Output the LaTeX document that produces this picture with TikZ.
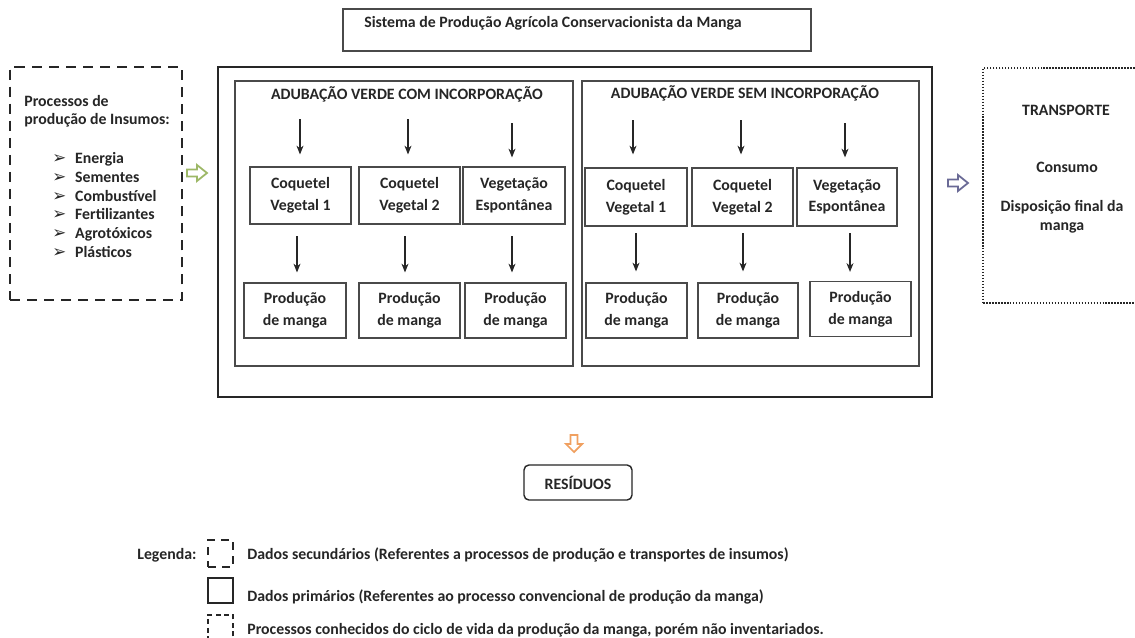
\documentclass[tikz,border=0pt]{standalone}
\usepackage{fontspec}
\setmainfont{Carlito}
\newfontfamily\symfont{DejaVu Sans}
\usetikzlibrary{arrows.meta}
\definecolor{grn}{HTML}{9DB866}
\definecolor{pur}{HTML}{6A6A96}
\definecolor{org}{HTML}{F0A060}
\definecolor{txt}{HTML}{262626}
\definecolor{edge}{HTML}{4A4A4A}
\newcommand\bul{\makebox[13pt][l]{\symfont\fontsize{9.5}{10}\selectfont ➢}}
\begin{document}
\begin{tikzpicture}[x=0.02cm,y=-0.02cm,
  font=\fontsize{9}{11}\selectfont\bfseries, text=txt,
  box/.style={draw=edge, line width=0.7pt, align=center, inner sep=0pt,
    font=\fontsize{9}{12.3}\selectfont\bfseries},
  frame/.style={draw=edge, line width=0.7pt, inner sep=0pt},
  arr/.style={-{Stealth[length=5pt,width=4pt]}, line width=0.6pt, draw=txt},
  blk/.style={line width=1pt, fill=white, line join=miter},
  lbl/.style={inner sep=0pt, align=center},
  secbox/.style={draw=txt, line width=1.4pt, dash pattern=on 5.7pt off 4pt, inner sep=0pt},
  unkbox/.style={draw=txt, line width=1.4pt, dash pattern=on 0.9pt off 0.8pt, inner sep=0pt}]
\useasboundingbox[fill=white] (0,0) rectangle (1135,637);

% title
\node[frame, minimum width=9.36cm, minimum height=0.84cm] (titlebox) at (577,30) {};
\node[lbl] (title) at (553,23) {Sistema de Produção Agrícola Conservacionista da Manga};

% main frames
\node[draw=txt, line width=1.4pt, inner sep=0pt, minimum width=14.28cm, minimum height=6.6cm] (main) at (575,232) {};
\node[frame, minimum width=6.76cm, minimum height=5.7cm] (leftg) at (404,223.5) {};
\node[frame, minimum width=6.74cm, minimum height=5.7cm] (rightg) at (750.5,223.5) {};
\node[lbl] (hdrL) at (407,94) {ADUBAÇÃO VERDE COM INCORPORAÇÃO};
\node[lbl] (hdrR) at (745,93) {ADUBAÇÃO VERDE SEM INCORPORAÇÃO};

% left group boxes
\node[box, minimum width=2.02cm, minimum height=1.14cm] (A) at (300.5,195.5) {Coquetel\\Vegetal 1};
\node[box, minimum width=2.02cm, minimum height=1.14cm] (B) at (409.5,195.5) {Coquetel\\Vegetal 2};
\node[box, minimum width=2.04cm, minimum height=1.14cm] (C) at (514,195.5) {Vegetação\\Espontânea};
\node[box, minimum width=2.04cm, minimum height=1.1cm] (D) at (295,310.5) {Produção\\de manga};
\node[box, minimum width=2.02cm, minimum height=1.1cm] (E) at (409.5,310.5) {Produção\\de manga};
\node[box, minimum width=2.02cm, minimum height=1.1cm] (F) at (515.5,310.5) {Produção\\de manga};

% right group boxes
\node[box, minimum width=2.04cm, minimum height=1.16cm] (G) at (636,197) {Coquetel\\Vegetal 1};
\node[box, minimum width=2.02cm, minimum height=1.16cm] (H) at (742.5,197) {Coquetel\\Vegetal 2};
\node[box, minimum width=2.0cm, minimum height=1.16cm] (I) at (847,197) {Vegetação\\Espontânea};
\node[box, minimum width=2.02cm, minimum height=1.1cm] (J) at (636.5,310.5) {Produção\\de manga};
\node[box, minimum width=2.0cm, minimum height=1.1cm] (K) at (748,310.5) {Produção\\de manga};
\node[box, minimum width=2.02cm, minimum height=1.1cm] (L) at (860.5,309) {Produção\\de manga};

% arrows row 1
\coordinate (sA) at (300,119);
\coordinate (sB) at (408,119);
\coordinate (sC) at (512,123);
\coordinate (sG) at (633,120);
\coordinate (sH) at (741,120);
\coordinate (sI) at (845,123);
\draw[arr, shorten >=0.24cm] (sA) -- (sA |- A.north);
\draw[arr, shorten >=0.24cm] (sB) -- (sB |- B.north);
\draw[arr, shorten >=0.18cm] (sC) -- (sC |- C.north);
\draw[arr, shorten >=0.26cm] (sG) -- (sG |- G.north);
\draw[arr, shorten >=0.26cm] (sH) -- (sH |- H.north);
\draw[arr, shorten >=0.2cm] (sI) -- (sI |- I.north);

% arrows row 2
\coordinate (tA) at (297,224);
\coordinate (tB) at (405,224);
\coordinate (tC) at (512,224);
\coordinate (tG) at (636,226);
\coordinate (tH) at (743,226);
\coordinate (tI) at (850,226);
\draw[arr, shorten <=0.24cm, shorten >=0.2cm] (tA) -- (tA |- D.north);
\draw[arr, shorten <=0.24cm, shorten >=0.2cm] (tB) -- (tB |- E.north);
\draw[arr, shorten <=0.24cm, shorten >=0.2cm] (tC) -- (tC |- F.north);
\draw[arr, shorten <=0.14cm, shorten >=0.22cm] (tG) -- (tG |- J.north);
\draw[arr, shorten <=0.14cm, shorten >=0.22cm] (tH) -- (tH |- K.north);
\draw[arr, shorten <=0.14cm, shorten >=0.18cm] (tI) -- (tI |- L.north);

% left secondary-data box
\node[secbox, minimum width=3.44cm, minimum height=4.66cm] (inputs) at (96,183.5) {};
\node[lbl, align=left, anchor=west, font=\fontsize{9}{10.2}\selectfont\bfseries] (inhead) at (24,111) {Processos de\\produção de Insumos:};
\node[lbl, align=left, anchor=west, font=\fontsize{9}{10.8}\selectfont\bfseries] (inlist) at (52,205)
{\bul Energia\\ \bul Sementes\\ \bul Combustível\\ \bul Fertilizantes\\ \bul Agrotóxicos\\ \bul Plásticos};

% right unknown box
\node[unkbox, minimum width=3.14cm, minimum height=4.7cm] (after) at (1061.5,185.5) {};
\node[lbl] (transp) at (1066,110) {TRANSPORTE};
\node[lbl] (consumo) at (1067,167) {Consumo};
\node[lbl, font=\fontsize{9}{10.8}\selectfont\bfseries] (dispo) at (1062,216.5) {Disposição final da\\manga};

% block arrows
\draw[blk, draw=grn] (187,169.5) -- (197,169.5) -- (197,165) -- (207,173) -- (197,181) -- (197,176.5) -- (187,176.5) -- cycle;
\draw[blk, draw=pur] (948,179.5) -- (958,179.5) -- (958,175) -- (968,183) -- (958,191) -- (958,186.5) -- (948,186.5) -- cycle;
\draw[blk, draw=org] (570.5,435) -- (570.5,444) -- (566,444) -- (574,452) -- (582,444) -- (577.5,444) -- (577.5,435) -- cycle;

% residues
\node[draw=txt, line width=0.8pt, rounded corners=2.8pt, inner sep=0pt, minimum width=2.16cm, minimum height=0.7cm] (res) at (578,482.5) {RESÍDUOS};

% legend
\node[lbl, anchor=west] (leg) at (137,555) {Legenda:};
\node[secbox, line width=1.4pt, dash pattern=on 4.5pt off 3.5pt, minimum width=0.5cm, minimum height=0.54cm] (ic1) at (220.5,553.5) {};
\node[draw=txt, line width=1.3pt, inner sep=0pt, minimum width=0.5cm, minimum height=0.5cm] (ic2) at (220.5,590.5) {};
\node[draw=txt, line width=1.4pt, dash pattern=on 2.8pt off 2pt, inner sep=0pt, minimum width=0.5cm, minimum height=0.6cm] (ic3) at (220.5,630) {};
\node[lbl, anchor=west] (l1) at (247,555) {Dados secundários (Referentes a processos de produção e transportes de insumos)};
\node[lbl, anchor=west] (l2) at (247,597) {Dados primários (Referentes ao processo convencional de produção da manga)};
\node[lbl, anchor=west] (l3) at (247,630) {Processos conhecidos do ciclo de vida da produção da manga, porém não inventariados.};
\end{tikzpicture}
\end{document}
